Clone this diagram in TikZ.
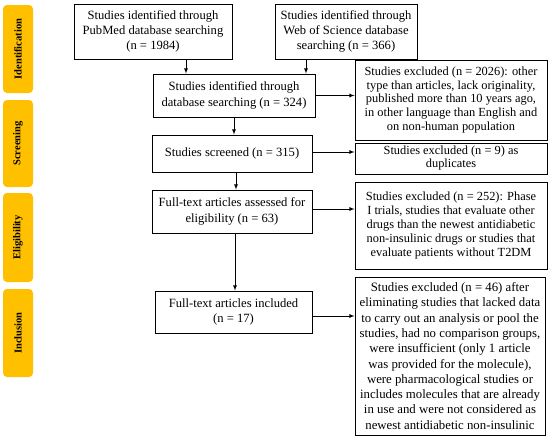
\documentclass[tikz,border=0pt]{standalone}
\usepackage{fontspec}
\setmainfont{Liberation Serif}
\usetikzlibrary{shapes,arrows,positioning,calc}
\usepackage{xcolor}
\definecolor{stageamber}{RGB}{255,192,0}

\begin{document}
\begin{tikzpicture}[x=1pt, y=-1pt, >=latex,
    box/.style={rectangle, draw, line width=0.9pt, align=center, inner sep=1pt, font=\fontsize{12.6}{15.2}\selectfont},
    stage/.style={rectangle, fill=stageamber, rounded corners=4pt, rotate=90, minimum height=30pt, inner sep=1pt, font=\fontsize{10.5}{12}\selectfont\bfseries},
    link/.style={->, line width=0.8pt}]
    \useasboundingbox (0,0) rectangle (550,440);
    % phase bars on the left
    \node [stage, minimum width=88pt] (identification) at (18,49) {Identification};
    \node [stage, minimum width=87pt] (screening) at (18,143.5) {Screening};
    \node [stage, minimum width=89pt] (eligibility) at (18,237.5) {Eligibility};
    \node [stage, minimum width=88pt] (inclusion) at (18,333) {Inclusion};
    % main column
    \node [box, minimum width=158pt, minimum height=55pt] (pubmed) at (153,31.5) {Studies identified through\\PubMed database searching\\(n = 1984)};
    \node [box, minimum width=142pt, minimum height=55pt] (wos) at (346,31.5) {Studies identified through\\Web of Science database\\searching (n = 366)};
    \node [box, minimum width=162pt, minimum height=43pt] (ident) at (234,95.5) {Studies identified through\\database searching (n = 324)};
    \node [box, minimum width=160pt, minimum height=37pt] (screened) at (232,153.5) {Studies screened (n = 315)};
    \node [box, minimum width=160pt, minimum height=43pt] (assessed) at (232,211.5) {Full-text articles assessed for\\eligibility (n = 63)};
    \node [box, minimum width=157pt, minimum height=42pt] (included) at (233.5,312) {Full-text articles included\\(n = 17)};
    % exclusions on the right
    \node [box, minimum width=192pt, minimum height=80pt, font=\fontsize{12.4}{13.6}\selectfont] (excl1) at (451,100) {Studies excluded (n = 2026): other\\type than articles, lack originality,\\published more than 10 years ago,\\in other language than English and\\on non-human population};
    \node [box, minimum width=192pt, minimum height=31pt, font=\fontsize{12.4}{13}\selectfont] (excl2) at (451,158.5) {Studies excluded (n = 9) as\\duplicates};
    \node [box, minimum width=192pt, minimum height=87pt, font=\fontsize{12.4}{14.2}\selectfont] (excl3) at (451,225.5) {Studies excluded (n = 252): Phase\\I trials, studies that evaluate other\\drugs than the newest antidiabetic\\non-insulinic drugs or studies that\\evaluate patients without T2DM};
    \node [box, minimum width=190pt, minimum height=158pt, font=\fontsize{12.8}{15.3}\selectfont] (excl4) at (450,356) {Studies excluded (n = 46) after\\eliminating studies that lacked data\\to carry out an analysis or pool the\\studies, had no comparison groups,\\were insufficient (only 1 article\\was provided for the molecule),\\were pharmacological studies or\\includes molecules that are already\\in use and were not considered as\\newest antidiabetic non-insulinic};
    % connectors
    \draw[link] ([xshift=33pt]pubmed.south) -- ([xshift=33pt]pubmed.south |- ident.north);
    \draw[link] ([xshift=-40pt]wos.south) -- ([xshift=-40pt]wos.south |- ident.north);
    \draw[link] (ident.south) -- (ident.south |- screened.north);
    \draw[link] ([xshift=4pt]screened.south) -- ([xshift=4pt]screened.south |- assessed.north);
    \draw[link] ([xshift=3pt]assessed.south) -- ([xshift=3pt]assessed.south |- included.north);
    \draw[link] (ident.east) -- (ident.east -| excl1.west);
    \draw[link] ([yshift=1.5pt]screened.east) -- ([yshift=1.5pt]screened.east -| excl2.west);
    \draw[link] ([yshift=2.5pt]assessed.east) -- ([yshift=2.5pt]assessed.east -| excl3.west);
    \draw[link] ([yshift=-4pt]included.east) -- ([yshift=-4pt]included.east -| excl4.west);
\end{tikzpicture}
\end{document}
